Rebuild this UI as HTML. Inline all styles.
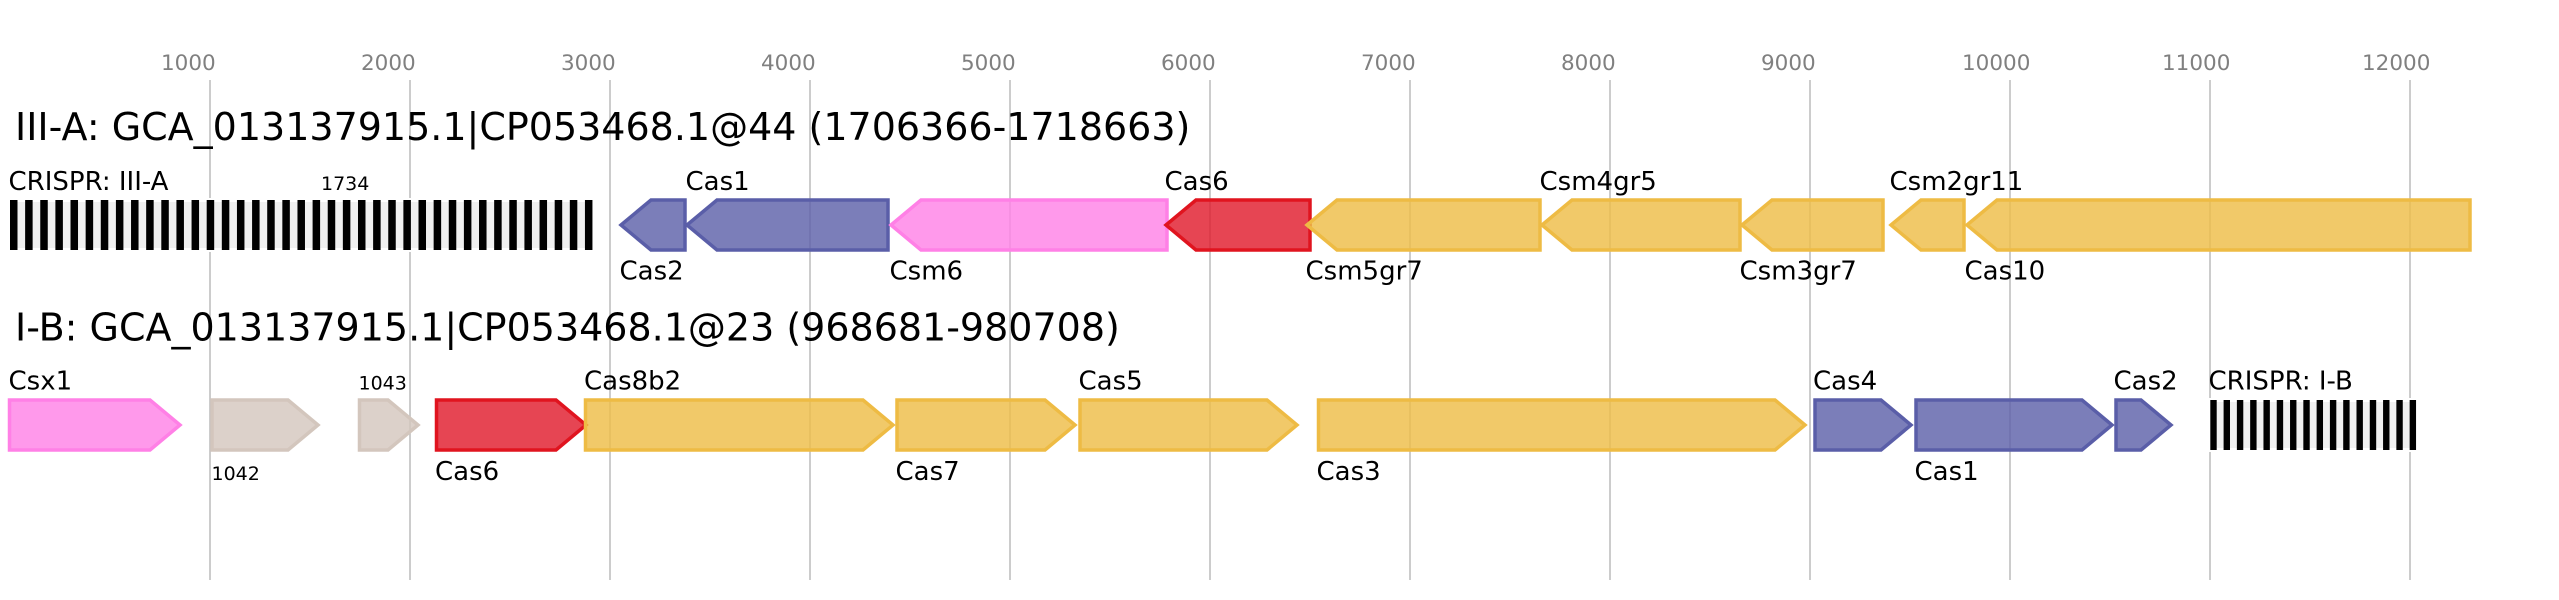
<!DOCTYPE html>
<html>
<head>
<meta charset="utf-8">
<style>
html,body{margin:0;padding:0;background:#fff;}
svg{display:block;}
text{font-family:"DejaVu Sans","Liberation Sans",sans-serif;}
.tk{font-size:21.5px;fill:#808080;}
.tt{font-size:38px;fill:#000;}
.lb{font-size:26px;fill:#000;}
.sm{font-size:19px;fill:#000;}
.gl{stroke:#c0c0c0;stroke-width:1.6;}
.g{stroke-width:3.5;fill-opacity:0.8;}
.bl{fill:#5a5ea8;stroke:#5a5ea8;}
.pk{fill:#ff80e6;stroke:#ff80e6;}
.rd{fill:#e01628;stroke:#e0141f;}
.yl{fill:#eebb44;stroke:#eebb44;}
.gy{fill:#d3c6bd;stroke:#d3c6bd;}
</style>
</head>
<body>
<svg width="2559" height="600" viewBox="0 0 2559 600" xmlns="http://www.w3.org/2000/svg">
<rect x="0" y="0" width="2559" height="600" fill="#fff"/>

<!-- grid lines -->
<g class="gl">
<line x1="210" y1="80" x2="210" y2="580"/>
<line x1="410" y1="80" x2="410" y2="580"/>
<line x1="610" y1="80" x2="610" y2="580"/>
<line x1="810" y1="80" x2="810" y2="580"/>
<line x1="1010" y1="80" x2="1010" y2="580"/>
<line x1="1210" y1="80" x2="1210" y2="580"/>
<line x1="1410" y1="80" x2="1410" y2="580"/>
<line x1="1610" y1="80" x2="1610" y2="580"/>
<line x1="1810" y1="80" x2="1810" y2="580"/>
<line x1="2010" y1="80" x2="2010" y2="580"/>
<line x1="2210" y1="80" x2="2210" y2="580"/>
<line x1="2410" y1="80" x2="2410" y2="580"/>
</g>

<!-- tick labels -->
<g class="tk">
<text x="161" y="70">1000</text>
<text x="361" y="70">2000</text>
<text x="561" y="70">3000</text>
<text x="761" y="70">4000</text>
<text x="961" y="70">5000</text>
<text x="1161" y="70">6000</text>
<text x="1361" y="70">7000</text>
<text x="1561" y="70">8000</text>
<text x="1761" y="70">9000</text>
<text x="1962" y="70">10000</text>
<text x="2162" y="70">11000</text>
<text x="2362" y="70">12000</text>
</g>

<!-- titles -->
<text class="tt" x="15" y="140">III-A: GCA_013137915.1|CP053468.1@44 (1706366-1718663)</text>
<text class="tt" x="15" y="340.5">I-B: GCA_013137915.1|CP053468.1@23 (968681-980708)</text>

<!-- ROW 1 : CRISPR III-A array -->
<rect x="10" y="200" width="582.5" height="50" fill="#f0f0f0" stroke="#fff" stroke-width="4"/>
<g fill="#000">
<rect x="10.00" y="200" width="7.5" height="50"/>
<rect x="25.13" y="200" width="7.5" height="50"/>
<rect x="40.26" y="200" width="7.5" height="50"/>
<rect x="55.39" y="200" width="7.5" height="50"/>
<rect x="70.52" y="200" width="7.5" height="50"/>
<rect x="85.65" y="200" width="7.5" height="50"/>
<rect x="100.78" y="200" width="7.5" height="50"/>
<rect x="115.91" y="200" width="7.5" height="50"/>
<rect x="131.04" y="200" width="7.5" height="50"/>
<rect x="146.17" y="200" width="7.5" height="50"/>
<rect x="161.30" y="200" width="7.5" height="50"/>
<rect x="176.43" y="200" width="7.5" height="50"/>
<rect x="191.56" y="200" width="7.5" height="50"/>
<rect x="206.69" y="200" width="7.5" height="50"/>
<rect x="221.82" y="200" width="7.5" height="50"/>
<rect x="236.95" y="200" width="7.5" height="50"/>
<rect x="252.08" y="200" width="7.5" height="50"/>
<rect x="267.21" y="200" width="7.5" height="50"/>
<rect x="282.34" y="200" width="7.5" height="50"/>
<rect x="297.47" y="200" width="7.5" height="50"/>
<rect x="312.60" y="200" width="7.5" height="50"/>
<rect x="327.73" y="200" width="7.5" height="50"/>
<rect x="342.86" y="200" width="7.5" height="50"/>
<rect x="357.99" y="200" width="7.5" height="50"/>
<rect x="373.12" y="200" width="7.5" height="50"/>
<rect x="388.25" y="200" width="7.5" height="50"/>
<rect x="403.38" y="200" width="7.5" height="50"/>
<rect x="418.51" y="200" width="7.5" height="50"/>
<rect x="433.64" y="200" width="7.5" height="50"/>
<rect x="448.77" y="200" width="7.5" height="50"/>
<rect x="463.90" y="200" width="7.5" height="50"/>
<rect x="479.03" y="200" width="7.5" height="50"/>
<rect x="494.16" y="200" width="7.5" height="50"/>
<rect x="509.29" y="200" width="7.5" height="50"/>
<rect x="524.42" y="200" width="7.5" height="50"/>
<rect x="539.55" y="200" width="7.5" height="50"/>
<rect x="554.68" y="200" width="7.5" height="50"/>
<rect x="569.81" y="200" width="7.5" height="50"/>
<rect x="584.94" y="200" width="7.5" height="50"/>
</g>

<!-- ROW 1 genes (reverse strand) -->
<polygon class="g bl" points="621,225 651,200 685,200 685,250 651,250"/>
<polygon class="g bl" points="687,225 717,200 888,200 888,250 717,250"/>
<polygon class="g pk" points="891,225 921,200 1167,200 1167,250 921,250"/>
<polygon class="g rd" points="1166,225 1196,200 1310,200 1310,250 1196,250"/>
<polygon class="g yl" points="1307,225 1337,200 1540,200 1540,250 1337,250"/>
<polygon class="g yl" points="1542,225 1572,200 1740,200 1740,250 1572,250"/>
<polygon class="g yl" points="1742,225 1772,200 1883,200 1883,250 1772,250"/>
<polygon class="g yl" points="1891,225 1921,200 1964,200 1964,250 1921,250"/>
<polygon class="g yl" points="1967,225 1997,200 2470,200 2470,250 1997,250"/>

<!-- ROW 1 labels -->
<text class="lb" x="8.5" y="190">CRISPR: III-A</text>
<text class="sm" x="321" y="190">1734</text>
<text class="lb" x="685.5" y="190">Cas1</text>
<text class="lb" x="1164.5" y="190">Cas6</text>
<text class="lb" x="1539.5" y="190">Csm4gr5</text>
<text class="lb" x="1889.5" y="190">Csm2gr11</text>
<text class="lb" x="619.5" y="279.5">Cas2</text>
<text class="lb" x="889.5" y="279.5">Csm6</text>
<text class="lb" x="1305.5" y="279.5">Csm5gr7</text>
<text class="lb" x="1739.5" y="279.5">Csm3gr7</text>
<text class="lb" x="1964.5" y="279.5">Cas10</text>

<!-- ROW 2 genes (forward strand) -->
<polygon class="g pk" points="9.5,400 150,400 180,425 150,450 9.5,450"/>
<polygon class="g gy" points="212,400 288,400 318,425 288,450 212,450"/>
<polygon class="g gy" points="359.5,400 388,400 418,425 388,450 359.5,450"/>
<polygon class="g rd" points="436.5,400 556,400 586,425 556,450 436.5,450"/>
<polygon class="g yl" points="585.5,400 863,400 893,425 863,450 585.5,450"/>
<polygon class="g yl" points="897,400 1045,400 1075,425 1045,450 897,450"/>
<polygon class="g yl" points="1080,400 1267,400 1297,425 1267,450 1080,450"/>
<polygon class="g yl" points="1318.5,400 1775,400 1805,425 1775,450 1318.5,450"/>
<polygon class="g bl" points="1815,400 1881,400 1911,425 1881,450 1815,450"/>
<polygon class="g bl" points="1916,400 2082,400 2112,425 2082,450 1916,450"/>
<polygon class="g bl" points="2116,400 2141,400 2171,425 2141,450 2116,450"/>

<!-- ROW 2 CRISPR I-B array -->
<rect x="2210.3" y="400" width="205.8" height="50" fill="#f0f0f0" stroke="#fff" stroke-width="4"/>
<g fill="#000">
<rect x="2210.30" y="400" width="6.4" height="50"/>
<rect x="2223.59" y="400" width="6.4" height="50"/>
<rect x="2236.88" y="400" width="6.4" height="50"/>
<rect x="2250.17" y="400" width="6.4" height="50"/>
<rect x="2263.46" y="400" width="6.4" height="50"/>
<rect x="2276.75" y="400" width="6.4" height="50"/>
<rect x="2290.04" y="400" width="6.4" height="50"/>
<rect x="2303.33" y="400" width="6.4" height="50"/>
<rect x="2316.62" y="400" width="6.4" height="50"/>
<rect x="2329.91" y="400" width="6.4" height="50"/>
<rect x="2343.20" y="400" width="6.4" height="50"/>
<rect x="2356.49" y="400" width="6.4" height="50"/>
<rect x="2369.78" y="400" width="6.4" height="50"/>
<rect x="2383.07" y="400" width="6.4" height="50"/>
<rect x="2396.36" y="400" width="6.4" height="50"/>
<rect x="2409.65" y="400" width="6.4" height="50"/>
</g>

<!-- ROW 2 labels -->
<text class="lb" x="8.5" y="389.5">Csx1</text>
<text class="sm" x="358.5" y="389.5">1043</text>
<text class="lb" x="584" y="389.5">Cas8b2</text>
<text class="lb" x="1078.5" y="389.5">Cas5</text>
<text class="lb" x="1813" y="389.5">Cas4</text>
<text class="lb" x="2113.5" y="389.5">Cas2</text>
<text class="lb" x="2208.5" y="389.5">CRISPR: I-B</text>
<text class="sm" x="211.5" y="480">1042</text>
<text class="lb" x="435" y="480">Cas6</text>
<text class="lb" x="895.5" y="480">Cas7</text>
<text class="lb" x="1316.5" y="480">Cas3</text>
<text class="lb" x="1914.5" y="480">Cas1</text>
</svg>
</body>
</html>
